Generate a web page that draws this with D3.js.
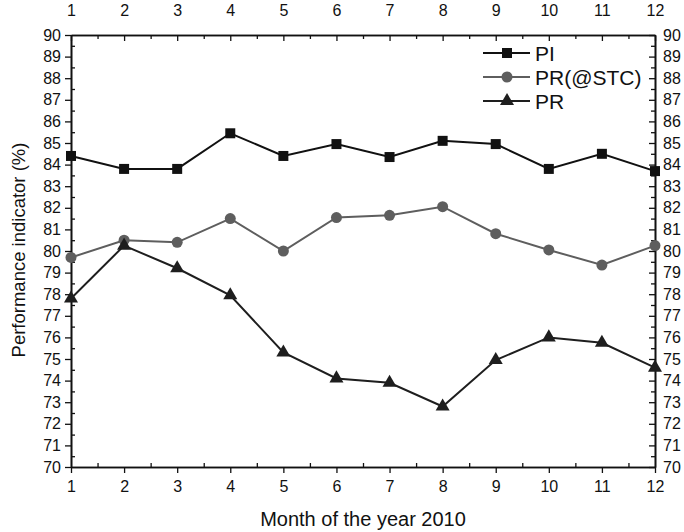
<!DOCTYPE html>
<html lang="en">
<head>
<meta charset="utf-8">
<script src="https://d3js.org/d3.v7.min.js"></script>
<style>
  body { margin: 0; background: #fff; }
  text { font-family: "Liberation Sans", Arial, sans-serif; fill: #111; }
</style>
</head>
<body>
<div id="my_graph"></div>
<script>
// data
const months = [1, 2, 3, 4, 5, 6, 7, 8, 9, 10, 11, 12];
const pi = [84.4, 83.8, 83.8, 85.45, 84.4, 84.95, 84.35, 85.1, 84.95, 83.8, 84.5, 83.7];
const prStc = [79.7, 80.5, 80.4, 81.5, 80.0, 81.55, 81.65, 82.05, 80.8, 80.05, 79.35, 80.25];
const pr = [77.8, 80.25, 79.2, 77.95, 75.3, 74.1, 73.9, 72.8, 74.95, 76.0, 75.75, 74.6];
const yTicks = d3.range(70, 91, 1);

const W = 684, H = 532;
const margin = {top: 35, right: 29, bottom: 65, left: 71};
const width = W - margin.left - margin.right,
      height = H - margin.top - margin.bottom;

const svg = d3.select("#my_graph").append("svg")
    .attr("width", W).attr("height", H)
  .append("g")
    .attr("transform", `translate(${margin.left},${margin.top})`);

const x = d3.scaleLinear().domain([1, 12]).range([0, width]);
const y = d3.scaleLinear().domain([70, 90]).range([height, 0]);

const minorX = d3.range(1.5, 12, 1);
const minorY = d3.range(70.5, 90, 1);

// minor ticks (all inward)
function minor(axis, ticks) {
  return axis.tickValues(ticks).tickFormat("").tickSizeOuter(0);
}
svg.append("g").attr("transform", `translate(0,${height})`)
  .call(minor(d3.axisTop(x), minorX).tickSizeInner(4));
svg.append("g").call(minor(d3.axisBottom(x), minorX).tickSizeInner(4));
svg.append("g").call(minor(d3.axisRight(y), minorY).tickSizeInner(4));
svg.append("g").attr("transform", `translate(${width},0)`)
  .call(minor(d3.axisLeft(y), minorY).tickSizeInner(4));

// major axes
const xB = svg.append("g").attr("transform", `translate(0,${height})`)
  .call(d3.axisBottom(x).tickValues(months).tickFormat(d3.format("d")).tickSizeInner(6).tickSizeOuter(0).tickPadding(4));
const xT = svg.append("g")
  .call(d3.axisTop(x).tickValues(months).tickFormat(d3.format("d")).tickSizeInner(-6).tickSizeOuter(0).tickPadding(19));
const yL = svg.append("g")
  .call(d3.axisLeft(y).tickValues(yTicks).tickFormat(d3.format("d")).tickSizeInner(6).tickSizeOuter(0).tickPadding(4));
const yR = svg.append("g").attr("transform", `translate(${width},0)`)
  .call(d3.axisRight(y).tickValues(yTicks).tickFormat(d3.format("d")).tickSizeInner(-6).tickSizeOuter(0).tickPadding(8));

svg.selectAll(".domain").attr("stroke", "#111").attr("stroke-width", 1.6);
svg.selectAll(".tick line").attr("stroke", "#111").attr("stroke-width", 1.3);
svg.selectAll(".tick text").style("font-size", "16px").attr("fill", "#111");
xB.selectAll(".tick text").attr("dy", "0.95em");

// axis titles
svg.append("text")
  .attr("x", width / 2).attr("y", height + 59)
  .attr("text-anchor", "middle").style("font-size", "20px")
  .text("Month of the year 2010");
svg.append("text")
  .attr("transform", `translate(${-46},${250 - margin.top}) rotate(-90)`)
  .attr("text-anchor", "middle").style("font-size", "18.5px")
  .text("Performance indicator (%)");

const series = [
  {name: "PI", values: pi, color: "#111", shape: d3.symbolSquare, size: 100},
  {name: "PR(@STC)", values: prStc, color: "#5e5e5e", shape: d3.symbolCircle, size: 95},
  {name: "PR", values: pr, color: "#1e1e1e", shape: d3.symbolTriangle, size: 85}
];

const line = d3.line().x((d, i) => x(months[i])).y(d => y(d));

series.forEach(s => {
  svg.append("path")
    .datum(s.values)
    .attr("fill", "none")
    .attr("stroke", s.color)
    .attr("stroke-width", 2)
    .attr("d", line);
  svg.selectAll(null)
    .data(s.values)
    .join("path")
    .attr("transform", (d, i) => `translate(${x(months[i])},${y(d)})`)
    .attr("d", d3.symbol().type(s.shape).size(s.size))
    .attr("fill", s.color);
});

// legend
const legend = svg.append("g").attr("transform", `translate(${507 - margin.left},${53 - margin.top})`);
series.forEach((s, i) => {
  const g = legend.append("g").attr("transform", `translate(0,${i * 24})`);
  g.append("line").attr("x1", -24).attr("x2", 23).attr("y1", 0).attr("y2", 0)
    .attr("stroke", s.color).attr("stroke-width", 2);
  g.append("path").attr("d", d3.symbol().type(s.shape).size(s.size)()).attr("fill", s.color);
  g.append("text").attr("x", 28).attr("y", 8).style("font-size", "21px").text(s.name);
});
</script>
</body>
</html>
